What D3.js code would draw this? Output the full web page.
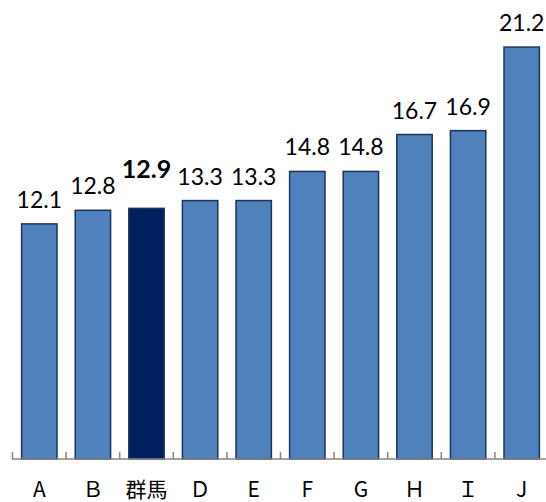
<!DOCTYPE html>
<html>
<head>
<meta charset="utf-8">
<script src="https://cdn.jsdelivr.net/npm/d3@7/dist/d3.min.js"></script>
<style>
  html, body { margin: 0; padding: 0; background: #fff; }
  svg { display: block; }
</style>
</head>
<body>
<svg id="chart" width="546" height="502"></svg>
<script>
// Prefecture categories and their values
const categories = ["A", "Ｂ", "群馬", "Ｄ", "E", "F", "G", "Ｈ", "Ｉ", "J"];
const values = [12.1, 12.8, 12.9, 13.3, 13.3, 14.8, 14.8, 16.7, 16.9, 21.2];
const highlight = "群馬";

const svg = d3.select("#chart");
const baseY = 459;

const x = d3.scaleBand()
  .domain(categories)
  .range([12.5, 12.5 + 53.6 * categories.length])
  .paddingInner(0.34)
  .paddingOuter(0.17);

const y = d3.scaleLinear()
  .domain([0, 22])
  .range([baseY, baseY - 22 * 19.43]);

const data = categories.map((c, i) => ({ c, v: values[i] }));

// Bars
svg.append("g")
  .selectAll("rect")
  .data(data)
  .join("rect")
  .attr("x", d => x(d.c))
  .attr("y", d => y(d.v))
  .attr("width", x.bandwidth())
  .attr("height", d => y(0) - y(d.v))
  .attr("fill", d => d.c === highlight ? "#002060" : "#4f81bd")
  .attr("stroke", "#1c3557")
  .attr("stroke-width", 1.5);

// Value labels; the highlighted one is bold, larger and set higher
svg.append("g")
  .selectAll("text")
  .data(data)
  .join("text")
  .attr("x", d => x(d.c) + x.bandwidth() / 2)
  .attr("y", d => y(d.v) - (d.c === highlight ? 30 : 16))
  .attr("text-anchor", "middle")
  .attr("font-family", "Lato, 'Open Sans', sans-serif")
  .attr("font-size", d => d.c === highlight ? 25 : 23)
  .attr("font-weight", d => d.c === highlight ? "bold" : "normal")
  .attr("fill", "#000")
  .text(d => d.v.toFixed(1));

// Category axis along the baseline, ticks sitting between bands
const step = x.step();
const boundaries = d3.range(categories.length + 1).map(i => x.range()[0] + i * step);
const axis = svg.append("g");
axis.append("line")
  .attr("x1", 12).attr("x2", 546)
  .attr("y1", baseY).attr("y2", baseY)
  .attr("stroke", "#868686").attr("stroke-width", 1.5);
axis.selectAll("line.tick")
  .data(boundaries)
  .join("line")
  .attr("class", "tick")
  .attr("x1", d => d).attr("x2", d => d)
  .attr("y1", baseY).attr("y2", baseY - 7)
  .attr("stroke", "#868686").attr("stroke-width", 1.5);

axis.selectAll("text")
  .data(categories)
  .join("text")
  .attr("x", d => x(d) + x.bandwidth() / 2)
  .attr("y", 497)
  .attr("text-anchor", "middle")
  .attr("font-family", "'Noto Sans CJK JP', sans-serif")
  .attr("font-size", 21)
  .attr("fill", "#000")
  .text(d => d);
</script>
</body>
</html>
